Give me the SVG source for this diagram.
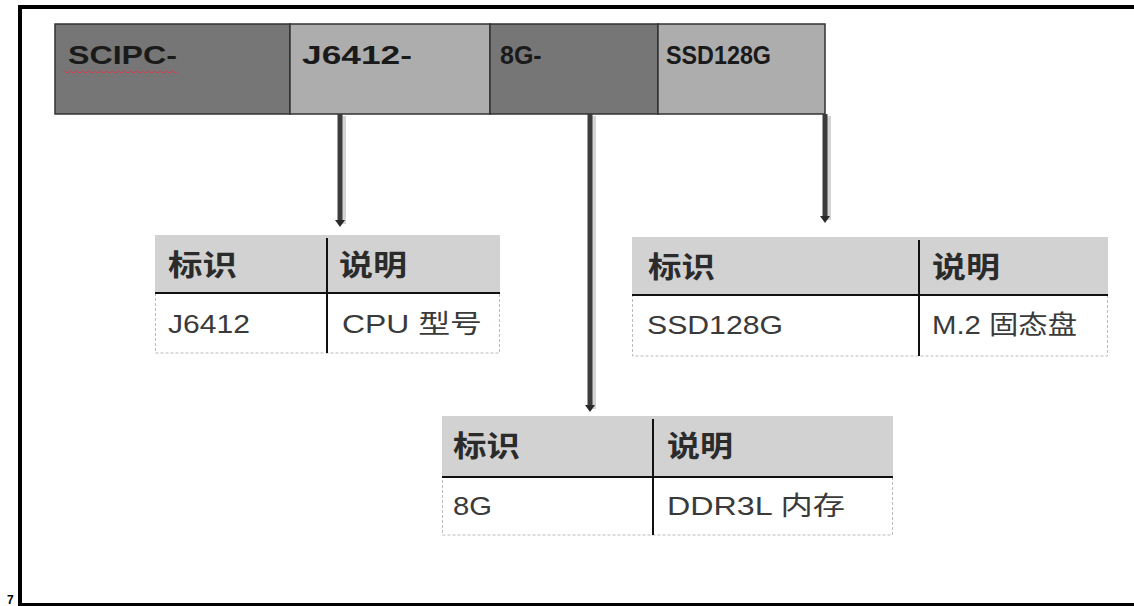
<svg xmlns="http://www.w3.org/2000/svg" width="1134" height="606" viewBox="0 0 1134 606">
<style>
.frame{stroke:#000;fill:none}
.dark{fill:#767676;stroke:#333;stroke-width:1.5}
.light{fill:#adadad;stroke:#333;stroke-width:1.5}
.bt{font-family:"Liberation Sans",Arial,sans-serif;font-weight:bold;font-size:25px;fill:#1a1a1a}
.bn{font-family:"Liberation Sans",Arial,sans-serif;font-weight:bold;font-size:25px;fill:#1a1a1a}
.hdr{fill:#d2d2d2}
.body{fill:#fff;stroke:#bbb;stroke-width:1;stroke-dasharray:3 2}
.hl{stroke:#111;stroke-width:2}
.cjkb{font-family:"Liberation Sans","Noto Sans CJK SC",sans-serif;font-weight:bold;font-size:29px;fill:#2b2b2b}
.txt{font-family:"Liberation Sans","Noto Sans CJK SC",sans-serif;font-size:26px;fill:#3a3a3a}
.conn{stroke:#3c3c3c;stroke-width:5;fill:none}
.shadow{stroke:#d4d4d4;stroke-width:4;fill:none}
</style>
<defs>
<marker id="ah" markerWidth="7" markerHeight="10" refX="0" refY="5" orient="auto" markerUnits="userSpaceOnUse">
<path d="M0,0 L7,5 L0,10 z" fill="#2a2a2a"/>
</marker>
</defs>
<rect width="1134" height="606" fill="#fff"/>
<g id="frame">
<line class="frame" x1="18" y1="7" x2="1134" y2="7" stroke-width="4"/>
<line class="frame" x1="20" y1="5" x2="20" y2="606" stroke-width="4"/>
<line class="frame" x1="18" y1="604.5" x2="1134" y2="604.5" stroke-width="3"/>
<text x="7" y="604" font-family="Liberation Sans,Arial,sans-serif" font-weight="bold" font-size="12" fill="#000">7</text>
</g>
<g id="bar-scipc">
<rect class="dark" x="55" y="24" width="235" height="90"/>
<text class="bt" x="68" y="64" textLength="109" lengthAdjust="spacingAndGlyphs">SCIPC-</text>
<path d="M63,72 q1.5,-2 3,0 t3,0 t3,0 t3,0 t3,0 t3,0 t3,0 t3,0 t3,0 t3,0 t3,0 t3,0 t3,0 t3,0 t3,0 t3,0 t3,0 t3,0 t3,0 t3,0 t3,0 t3,0 t3,0 t3,0 t3,0 t3,0 t3,0 t3,0 t3,0 t3,0 t3,0 t3,0 t3,0 t3,0 t3,0 t3,0 t3,0 t3,0" fill="none" stroke="#d23a4a" stroke-width="1"/>
</g>
<g id="bar-j6412">
<rect class="light" x="290" y="24" width="200" height="90"/>
<text class="bt" x="302" y="64" textLength="110" lengthAdjust="spacingAndGlyphs">J6412-</text>
</g>
<g id="bar-8g">
<rect class="dark" x="490" y="24" width="168" height="90"/>
<text class="bn" x="500" y="64">8G-</text>
</g>
<g id="bar-ssd">
<rect class="light" x="658" y="24" width="167" height="90"/>
<text class="bn" x="666" y="64" textLength="105" lengthAdjust="spacingAndGlyphs">SSD128G</text>
</g>
<g id="connectors">
<line class="shadow" x1="344" y1="116" x2="344" y2="224"/>
<line class="conn" x1="340" y1="114" x2="340" y2="220" marker-end="url(#ah)"/>
<line class="shadow" x1="594" y1="116" x2="594" y2="409"/>
<line class="conn" x1="590" y1="114" x2="590" y2="405" marker-end="url(#ah)"/>
<line class="shadow" x1="829" y1="116" x2="829" y2="220"/>
<line class="conn" x1="825" y1="114" x2="825" y2="216" marker-end="url(#ah)"/>
</g>
<g id="table-cpu">
<rect class="hdr" x="155" y="235" width="345" height="58"/>
<rect class="body" x="155.5" y="293" width="344" height="60"/>
<line class="hl" x1="155" y1="293" x2="500" y2="293"/>
<line class="hl" x1="327" y1="238" x2="327" y2="353"/>
<text class="cjkb" x="168" y="276" textLength="69" lengthAdjust="spacingAndGlyphs">标识</text>
<text class="cjkb" x="339" y="276" textLength="68" lengthAdjust="spacingAndGlyphs">说明</text>
<text class="txt" x="168" y="333" textLength="82" lengthAdjust="spacingAndGlyphs">J6412</text>
<text class="txt" x="342" y="333" textLength="140" lengthAdjust="spacingAndGlyphs">CPU 型号</text>
</g>
<g id="table-ssd">
<rect class="hdr" x="632" y="237" width="476" height="58"/>
<rect class="body" x="632.5" y="295" width="475" height="61"/>
<line class="hl" x1="632" y1="295" x2="1108" y2="295"/>
<line class="hl" x1="919" y1="240" x2="919" y2="356"/>
<text class="cjkb" x="648" y="278" textLength="67" lengthAdjust="spacingAndGlyphs">标识</text>
<text class="cjkb" x="932" y="278" textLength="68" lengthAdjust="spacingAndGlyphs">说明</text>
<text class="txt" x="647" y="334" textLength="136" lengthAdjust="spacingAndGlyphs">SSD128G</text>
<text class="txt" x="932" y="334" textLength="145" lengthAdjust="spacingAndGlyphs">M.2 固态盘</text>
</g>
<g id="table-ram">
<rect class="hdr" x="442" y="416" width="451" height="61"/>
<rect class="body" x="442.5" y="477" width="450" height="58"/>
<line class="hl" x1="442" y1="477" x2="893" y2="477"/>
<line class="hl" x1="653" y1="419" x2="653" y2="535"/>
<text class="cjkb" x="453" y="457" textLength="67" lengthAdjust="spacingAndGlyphs">标识</text>
<text class="cjkb" x="667" y="457" textLength="66" lengthAdjust="spacingAndGlyphs">说明</text>
<text class="txt" x="453" y="515" textLength="39" lengthAdjust="spacingAndGlyphs">8G</text>
<text class="txt" x="667" y="515" textLength="178" lengthAdjust="spacingAndGlyphs">DDR3L 内存</text>
</g>
</svg>
